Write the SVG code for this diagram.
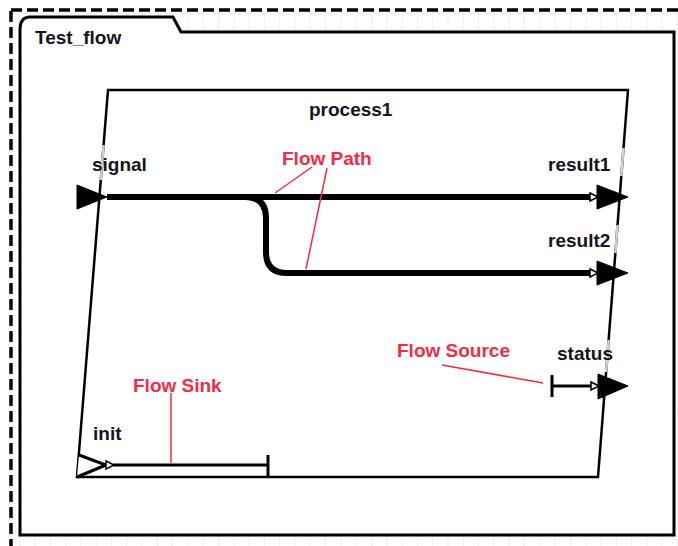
<svg xmlns="http://www.w3.org/2000/svg" width="678" height="546" viewBox="0 0 678 546">
<style>
.lbl{font-family:"Liberation Sans",Arial,sans-serif;font-weight:bold;font-size:19px;fill:#14141e}
.note{font-family:"Liberation Sans",Arial,sans-serif;font-weight:bold;font-size:19px;fill:#f52a45}
.leader{stroke:#f52a45;stroke-width:1.5;fill:none}
.edge{stroke:#000;stroke-width:2.5;fill:none}
.thick{stroke:#000;stroke-width:6;fill:none;stroke-linejoin:round}
.thin{stroke:#000;stroke-width:3;fill:none}
.port{fill:#000;stroke:#000;stroke-width:1}
.tip{fill:#fff;stroke:#000;stroke-width:1.5}
.gray{stroke:#d0d0d0;stroke-width:2.5}
</style>
<defs>
<pattern id="grid" x="3.8" y="-2" width="15.3" height="15.3" patternUnits="userSpaceOnUse">
<path d="M0 0V15.3M0 0H15.3" stroke="#d6e2f0" stroke-width="1" fill="none"/>
</pattern>
</defs>
<rect x="0" y="0" width="678" height="546" fill="#fff"/>
<rect x="11" y="10" width="680" height="550" fill="url(#grid)"/>
<rect x="11" y="10" width="680" height="550" fill="none" stroke="#000" stroke-width="3.5" stroke-dasharray="11 5"/>
<g id="Test_flow">
<path d="M20 535 V30 Q20 17 30 17 H173 L181 32 H674 V535 Z" fill="#fff" stroke="#000" stroke-width="3"/>
<text class="lbl" x="35" y="44">Test_flow</text>
</g>
<g id="process1">
<polygon points="108,90 628,90 598,477 77,477" class="edge" fill="#fff"/>
<line class="gray" x1="103.6" y1="145" x2="100.8" y2="180"/>
<line class="gray" x1="623.5" y1="148" x2="621.3" y2="176"/>
<line class="gray" x1="617.5" y1="225" x2="615.4" y2="253"/>
<line class="gray" x1="608.6" y1="340" x2="606.1" y2="372"/>
<text class="lbl" x="309" y="116">process1</text>
</g>
<g id="signal">
<polygon class="port" points="77,185 77,209 107,197"/>
<text class="lbl" x="92" y="171">signal</text>
</g>
<g id="result1">
<polygon class="port" points="597,185 597,209 628,197"/>
<text class="lbl" x="548" y="171">result1</text>
</g>
<g id="result2">
<polygon class="port" points="597,261 597,285 628,273"/>
<text class="lbl" x="548" y="247">result2</text>
</g>
<g id="status">
<polygon class="port" points="598,374 598,399 628,386"/>
<text class="lbl" x="557" y="360">status</text>
</g>
<g id="init">
<polyline points="79,455 106,465 77,477" fill="#fff" stroke="#000" stroke-width="3"/>
<text class="lbl" x="93" y="440">init</text>
</g>
<g id="connectors">
<path class="thick" d="M107 197 H592"/>
<path class="thick" d="M245 197 Q266 197 266 218 V252 Q266 273 287 273 H592"/>
<polygon class="tip" points="590,193 598,197 590,201"/>
<polygon class="tip" points="590,269 598,273 590,277"/>
<path class="thin" d="M552 386 H591"/>
<path class="thin" d="M552 375 V397"/>
<polygon class="tip" points="591,382 599,386 591,390"/>
<path class="thin" d="M113 465 H268"/>
<path class="thin" d="M268 455 V477"/>
<polygon class="tip" points="106,461 114,465 106,469"/>
</g>
<g id="annotations">
<text class="note" x="282" y="165">Flow Path</text>
<line class="leader" x1="275" y1="193" x2="312" y2="167"/>
<line class="leader" x1="327" y1="168" x2="306" y2="269"/>
<text class="note" x="133" y="392">Flow Sink</text>
<line class="leader" x1="171" y1="393" x2="171" y2="463"/>
<text class="note" x="397" y="357">Flow Source</text>
<line class="leader" x1="442" y1="365" x2="543" y2="383"/>
</g>
</svg>
